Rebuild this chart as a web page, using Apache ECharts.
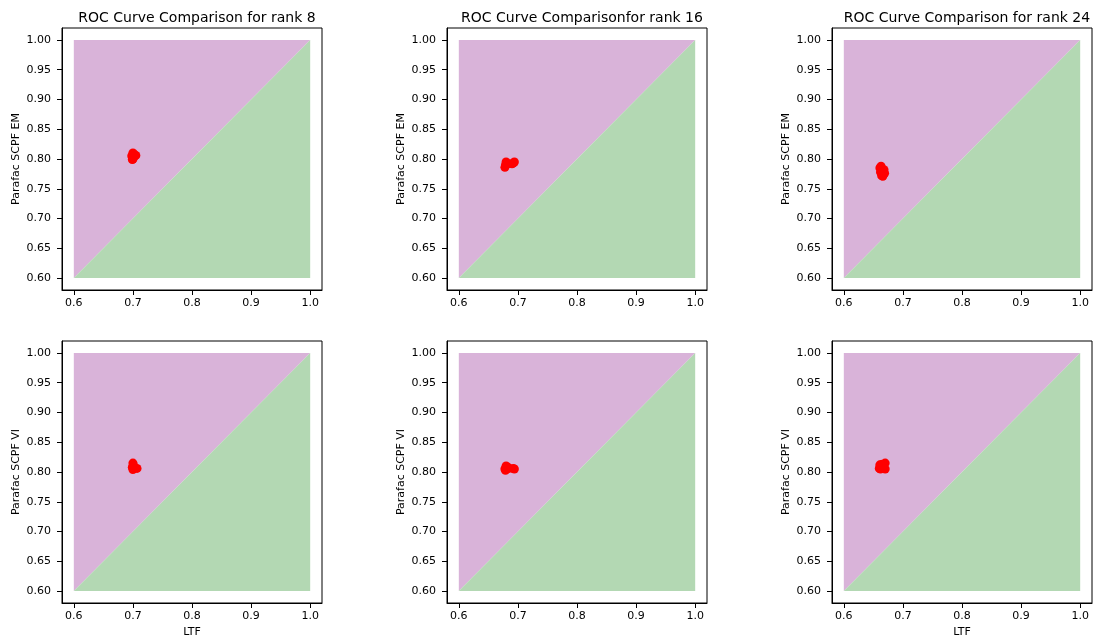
<!DOCTYPE html>
<html>
<head>
<meta charset="utf-8">
<script src="https://cdn.jsdelivr.net/npm/echarts@6/dist/echarts.min.js"></script>
<style>
  html, body { margin: 0; padding: 0; background: #fff; }
  #main { width: 1100px; height: 641px; }
</style>
</head>
<body>
<div id="main"></div>
<script>
// panel titles (top row only) and axis names
var titles = ['ROC Curve Comparison for rank 8', 'ROC Curve Comparisonfor rank 16', 'ROC Curve Comparison for rank 24'];
var yNames = ['Parafac SCPF EM', 'Parafac SCPF VI'];
var xName = 'LTF';

var xTicks = [0.6, 0.7, 0.8, 0.9, 1.0];
var yTicks = [0.6, 0.65, 0.7, 0.75, 0.8, 0.85, 0.9, 0.95, 1.0];

// shaded halves of the unit square (upper-left = above diagonal)
var upperRegion = [[0.6, 0.6], [0.6, 1.0], [1.0, 1.0]];
var lowerRegion = [[0.6, 0.6], [1.0, 1.0], [1.0, 0.6]];

// LTF vs Parafac scores, per rank
var emRank8 = [[0.700, 0.800], [0.698, 0.805], [0.702, 0.808], [0.705, 0.806], [0.700, 0.810], [0.699, 0.799], [0.701, 0.802]];
var emRank16 = [[0.678, 0.786], [0.679, 0.790], [0.680, 0.795], [0.683, 0.792], [0.692, 0.793], [0.694, 0.795], [0.690, 0.792]];
var emRank24 = [[0.661, 0.785], [0.662, 0.778], [0.664, 0.772], [0.668, 0.782], [0.669, 0.776], [0.666, 0.771], [0.663, 0.788]];
var viRank8 = [[0.700, 0.815], [0.699, 0.808], [0.700, 0.804], [0.702, 0.806], [0.707, 0.806], [0.701, 0.811]];
var viRank16 = [[0.678, 0.805], [0.680, 0.810], [0.683, 0.808], [0.685, 0.806], [0.692, 0.806], [0.694, 0.805], [0.679, 0.803]];
var viRank24 = [[0.660, 0.806], [0.661, 0.812], [0.665, 0.813], [0.670, 0.815], [0.670, 0.805], [0.662, 0.805], [0.667, 0.809]];

var panelData = [emRank8, emRank16, emRank24, viRank8, viRank16, viRank24];

var colLeft = [62, 447, 832];
var rowTop = [28, 341];
var font = 'DejaVu Sans';

var grids = [], xAxes = [], yAxes = [], series = [], titleList = [];

function regionSeries(idx, pts, color) {
  return {
    type: 'custom',
    xAxisIndex: idx, yAxisIndex: idx,
    silent: true, z: 1,
    data: [[0.8, 0.8]],
    renderItem: function (params, api) {
      return {
        type: 'polygon',
        shape: { points: pts.map(function (p) { return api.coord(p); }) },
        style: { fill: color }
      };
    }
  };
}

for (var r = 0; r < 2; r++) {
  for (var c = 0; c < 3; c++) {
    var i = r * 3 + c;
    grids.push({
      left: colLeft[c], top: rowTop[r], width: 260, height: 262,
      show: true, borderColor: '#000', borderWidth: 1, backgroundColor: 'transparent'
    });
    xAxes.push({
      type: 'value', gridIndex: i, min: 0.58, max: 1.02,
      name: (r === 1 && c !== 1) ? xName : '',
      nameLocation: 'middle', nameGap: 24,
      nameTextStyle: { fontFamily: font, fontSize: 11, color: '#000' },
      axisLine: { show: true, lineStyle: { color: '#000', width: 1 } },
      axisTick: { show: true, length: 5, customValues: xTicks, lineStyle: { color: '#000' } },
      axisLabel: {
        customValues: xTicks, margin: 8, fontFamily: font, fontSize: 11, color: '#000',
        formatter: function (v) { return v.toFixed(1); }
      },
      splitLine: { show: false }
    });
    yAxes.push({
      type: 'value', gridIndex: i, min: 0.58, max: 1.02,
      name: yNames[r], nameLocation: 'middle', nameGap: 40, nameRotate: 90,
      nameTextStyle: { fontFamily: font, fontSize: 11, color: '#000' },
      axisLine: { show: true, lineStyle: { color: '#000', width: 1 } },
      axisTick: { show: true, length: 5, customValues: yTicks, lineStyle: { color: '#000' } },
      axisLabel: {
        customValues: yTicks, margin: 11, fontFamily: font, fontSize: 11, color: '#000',
        formatter: function (v) { return v.toFixed(2); }
      },
      splitLine: { show: false }
    });
    series.push(regionSeries(i, upperRegion, '#d9b3d9'));
    series.push(regionSeries(i, lowerRegion, '#b3d8b3'));
    series.push({
      type: 'scatter', xAxisIndex: i, yAxisIndex: i, z: 3,
      symbolSize: 9, itemStyle: { color: '#ff0000', opacity: 1 },
      data: panelData[i]
    });
    if (r === 0) {
      titleList.push({
        text: titles[c], left: colLeft[c] + 130, top: 6, textAlign: 'center',
        textStyle: { fontFamily: font, fontSize: 14, fontWeight: 'normal', color: '#000' }
      });
    }
  }
}

var myChart = echarts.init(document.getElementById('main'));
myChart.setOption({
  animation: false,
  backgroundColor: '#fff',
  title: titleList,
  grid: grids,
  xAxis: xAxes,
  yAxis: yAxes,
  series: series
});
</script>
</body>
</html>
